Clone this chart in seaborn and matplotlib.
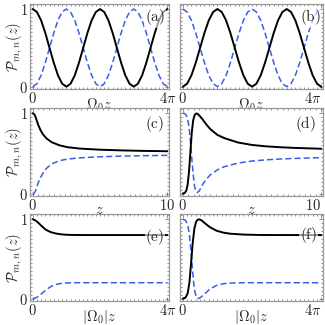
import numpy as np
import matplotlib
matplotlib.use("Agg")
import matplotlib.pyplot as plt
import seaborn as sns
from matplotlib.ticker import MultipleLocator

# populations, black = solid, blue = dashed
# (a)/(b): x in units of pi, 0..4pi
x_ab = [k / 8 for k in range(33)]
half = [1.0, 0.962, 0.854, 0.691, 0.5, 0.309, 0.146, 0.038, 0.0,
        0.038, 0.146, 0.309, 0.5, 0.691, 0.854, 0.962]
black_a = half * 2 + [1.0]
blue_a = [round(1 - v, 3) for v in black_a]
black_b = blue_a
blue_b = black_a

# (c)/(d): x = z, 0..10
z_c = [0, 0.1, 0.2, 0.3, 0.4, 0.55, 0.75, 1.0, 1.4, 2.0, 2.6, 3.5, 5.0, 6.5, 8.0, 10.0]
black_c = [1.0, 0.99, 0.96, 0.91, 0.86, 0.80, 0.74, 0.69, 0.64, 0.60, 0.577, 0.56,
           0.546, 0.538, 0.532, 0.527]
blue_c = [0.0, 0.005, 0.03, 0.08, 0.13, 0.19, 0.25, 0.31, 0.37, 0.41, 0.43, 0.445,
          0.458, 0.466, 0.471, 0.476]

z_d = [0, 0.15, 0.25, 0.35, 0.45, 0.55, 0.65, 0.75, 0.85, 0.95, 1.05, 1.2, 1.4, 1.7,
       2.0, 2.5, 3.0, 4.0, 5.0, 6.0, 7.0, 8.0, 10.0]
black_d = [0, 0.01, 0.035, 0.11, 0.27, 0.52, 0.76, 0.91, 0.975, 0.995, 0.995, 0.97,
           0.93, 0.86, 0.80, 0.73, 0.69, 0.635, 0.605, 0.588, 0.577, 0.569, 0.558]
blue_d = [1.0, 0.995, 0.975, 0.93, 0.83, 0.66, 0.44, 0.24, 0.09, 0.025, 0.012, 0.035,
          0.105, 0.18, 0.235, 0.295, 0.335, 0.38, 0.405, 0.42, 0.43, 0.437, 0.447]

# (e)/(f): x = |Omega0| z, 0..4pi
z_e = [0, 0.3, 0.6, 0.9, 1.2, 1.5, 1.8, 2.2, 2.6, 3.0, 3.5, 4.0, 5.0, 6.0, 8.0, 10.0, 12.566]
black_e = [1.0, 0.98, 0.945, 0.905, 0.87, 0.848, 0.832, 0.819, 0.81, 0.805, 0.802,
           0.801, 0.80, 0.80, 0.80, 0.80, 0.80]
blue_e = [0.0, 0.01, 0.035, 0.07, 0.105, 0.135, 0.158, 0.178, 0.19, 0.196, 0.199,
          0.2, 0.2, 0.2, 0.2, 0.2, 0.2]

z_f = [0, 0.25, 0.45, 0.6, 0.75, 0.9, 1.05, 1.2, 1.35, 1.5, 1.7, 2.0, 2.45, 3.05,
       3.7, 4.3, 5.5, 7.0, 9.0, 12.566]
black_f = [0, 0.012, 0.07, 0.2, 0.44, 0.7, 0.88, 0.965, 0.993, 0.998, 0.985, 0.95,
           0.9, 0.855, 0.83, 0.817, 0.806, 0.801, 0.80, 0.80]
blue_f = [1.0, 0.985, 0.93, 0.81, 0.59, 0.33, 0.12, 0.03, 0.003, 0.005, 0.025, 0.06,
          0.12, 0.165, 0.188, 0.196, 0.2, 0.2, 0.2, 0.2]

panel_tags = ["a", "b", "c", "d", "e", "f"]

sns.set_style("ticks")
plt.rcParams['font.family'] = ['DejaVu Serif']
plt.rcParams['mathtext.fontset'] = 'cm'

BLUE = "#3a5ee8"
FRAME = "#9a9a9a"

fig = plt.figure(figsize=(3.25, 3.25), dpi=100)

cols = [(30, 139), (180, 143)]
rows = [(4, 89), (108, 196), (214, 301)]

panels = [
    (np.array(x_ab) * np.pi, black_a, blue_a),
    (np.array(x_ab) * np.pi, black_b, blue_b),
    (z_c, black_c, blue_c),
    (z_d, black_d, blue_d),
    (z_e, black_e, blue_e),
    (z_f, black_f, blue_f),
]
xlabels = [r"$\Omega_0 z$", r"$z$", r"$|\Omega_0| z$"]
xmax = [4 * np.pi, 10.0, 4 * np.pi]
xtick_txt = [r"$4\pi$", r"$10$", r"$4\pi$"]
tag_pos = [(0.9, 0.85), (0.91, 0.85), (0.9, 0.82), (0.88, 0.82), (0.9, 0.74), (0.9, 0.76)]

for i, (xs, blk, blu) in enumerate(panels):
    r, c = divmod(i, 2)
    x0, w = cols[c]
    y1, y2 = rows[r]
    ax = fig.add_axes([x0 / 325, 1 - y2 / 325, w / 325, (y2 - y1) / 325])
    R = xmax[r]

    sns.lineplot(x=list(xs), y=blu, ax=ax, color=BLUE, lw=1.1,
                 linestyle=(0, (4, 2)), sort=False)
    sns.lineplot(x=list(xs), y=blk, ax=ax, color="black", lw=1.4, sort=False)

    ax.set_xlim(-0.02 * R, 1.012 * R)
    ax.set_ylim(-0.03, 1.065)
    ax.set_xticks([0, R])
    ax.set_xticklabels([r"$0$", xtick_txt[r]], fontsize=10.5)
    if c == 1:
        ax.get_xticklabels()[1].set_horizontalalignment("right")
    ax.xaxis.set_minor_locator(MultipleLocator(R / 32 if R > 10.5 else 0.4))
    ax.set_yticks([0, 1])
    ax.yaxis.set_minor_locator(MultipleLocator(0.05))
    if c == 0:
        ax.set_yticklabels([r"$0$", r"$1$"], fontsize=10.5)
        ax.set_ylabel(r"$\mathcal{P}_{m,n}(z)$", fontsize=10.5, labelpad=-4)
    else:
        ax.set_yticklabels([])
        ax.set_ylabel("")
    ax.set_xlabel(xlabels[r], fontsize=10.5, labelpad=-7)

    ax.tick_params(which="both", direction="in", top=True, right=True,
                   color="#666666", width=0.5, pad=1.5)
    ax.tick_params(which="major", length=3)
    ax.tick_params(which="minor", length=1.5)
    for s in ax.spines.values():
        s.set_color(FRAME)
        s.set_linewidth(0.9)

    ax.text(tag_pos[i][0], tag_pos[i][1], r"$(\mathrm{%s})$" % panel_tags[i],
            transform=ax.transAxes, ha="center", va="center", fontsize=11,
            bbox=dict(facecolor="white", edgecolor="none", alpha=0.6, pad=0.5))

fig.savefig("out.png", dpi=100)
